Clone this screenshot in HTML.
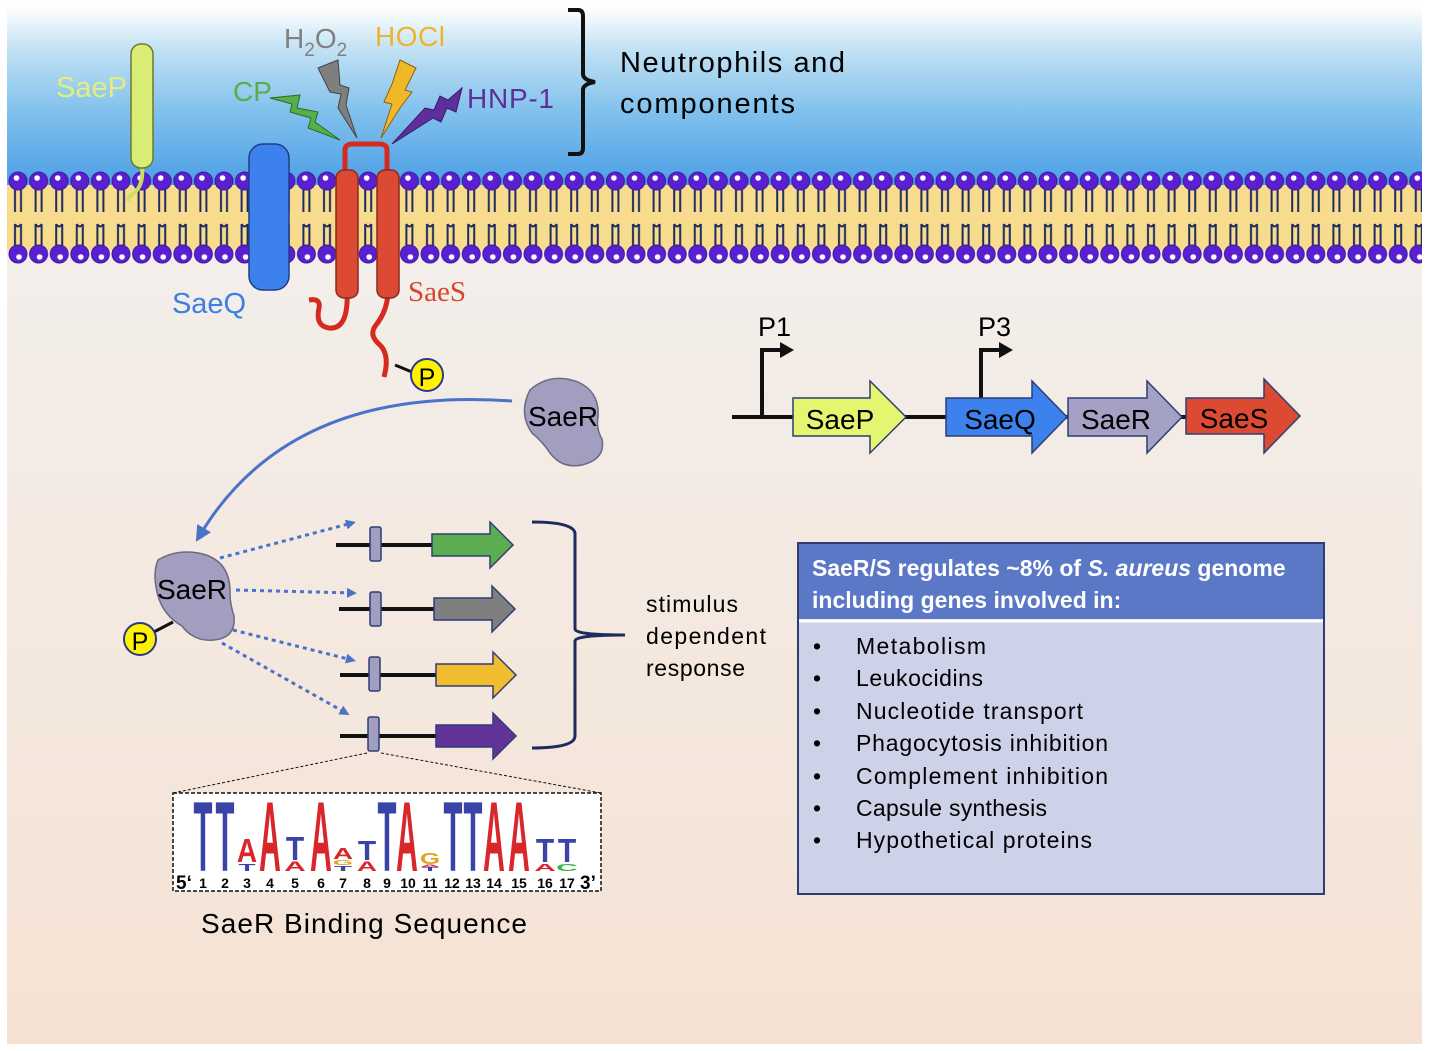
<!DOCTYPE html>
<html><head><meta charset="utf-8"><style>
html,body{margin:0;padding:0;background:#fff}
svg{display:block}
text{font-family:"Liberation Sans","DejaVu Sans",sans-serif}
</style></head><body>
<svg width="1429" height="1051" viewBox="0 0 1429 1051" xmlns="http://www.w3.org/2000/svg">
<defs>
<linearGradient id="sky" x1="0" y1="0" x2="0" y2="1">
<stop offset="0" stop-color="#ffffff"/><stop offset="0.25" stop-color="#bfe0f3"/><stop offset="0.6" stop-color="#7fc0ec"/><stop offset="1" stop-color="#4d9fe6"/></linearGradient>
<linearGradient id="cyto" x1="0" y1="0" x2="0" y2="1">
<stop offset="0" stop-color="#f2f2f2"/><stop offset="1" stop-color="#f5e2d3"/></linearGradient>
<pattern id="lip" x="8" y="0" width="20.6" height="300" patternUnits="userSpaceOnUse">
<path d="M7 190 v22 M13 190 v22 M7 190 q3 -5 6 0 M7 224 v22 M13 224 v22 M7 224 q3 5 6 0" stroke="#1f2a60" stroke-width="2" fill="none"/>
<circle cx="10" cy="181" r="9" fill="#5a1fd0" stroke="#3b1a9a" stroke-width="1"/>
<circle cx="8.5" cy="178" r="2.8" fill="#fff"/>
<circle cx="10" cy="254" r="9" fill="#5a1fd0" stroke="#3b1a9a" stroke-width="1"/>
<circle cx="11" cy="257" r="2.8" fill="#fff"/>
</pattern>
<marker id="ah" markerWidth="10" markerHeight="10" refX="6" refY="5" orient="auto" markerUnits="userSpaceOnUse"><path d="M0 0 L10 5 L0 10 Z" fill="#4a72c8"/></marker>
<marker id="ah2" markerWidth="16" markerHeight="16" refX="8" refY="8" orient="auto" markerUnits="userSpaceOnUse"><path d="M0 0 L16 8 L0 16 Z" fill="#4a72c8"/></marker>
</defs>
<rect x="7" y="7" width="1415" height="1037" fill="url(#cyto)"/>
<rect x="7" y="7" width="1415" height="178" fill="url(#sky)"/>
<rect x="7" y="185" width="1415" height="65" fill="#f7dc8e"/>
<rect x="7" y="160" width="1415" height="110" fill="url(#lip)"/>

<!-- SaeP -->
<path d="M142 165 q2 20 -8 28 q-6 4 -6 8" stroke="#c8e060" stroke-width="4" fill="none"/>
<rect x="131" y="44" width="22" height="124" rx="10" fill="#d9ec76" stroke="#6d7a2a" stroke-width="1.5"/>
<text x="56" y="97" font-size="29" fill="#e2ee7e">SaeP</text>
<!-- SaeQ -->
<rect x="249" y="144" width="40" height="146" rx="14" fill="#3d82ec" stroke="#1f3c88" stroke-width="1.5"/>
<text x="172" y="313" font-size="29" fill="#3e7fe0" textLength="74">SaeQ</text>
<!-- SaeS -->
<path d="M345 170 v-20 q0 -6 8 -6 h26 q8 0 8 6 v20" stroke="#d42b1e" stroke-width="5" fill="none"/>
<path d="M347 290 q2 40 -18 38 q-14 -2 -10 -20 q2 -10 -10 -8" stroke="#d42b1e" stroke-width="5" fill="none"/>
<path d="M388 290 q0 20 -12 35 q-8 10 4 20 q10 10 4 32" stroke="#d42b1e" stroke-width="5" fill="none"/>
<rect x="336" y="170" width="22" height="128" rx="8" fill="#dc4a33" stroke="#8a2a1c" stroke-width="1.5"/>
<rect x="377" y="170" width="22" height="128" rx="8" fill="#dc4a33" stroke="#8a2a1c" stroke-width="1.5"/>
<text x="408" y="301" font-size="29" fill="#d8452e" style="font-family:'Liberation Serif',serif">SaeS</text>
<line x1="395" y1="365" x2="412" y2="372" stroke="#111" stroke-width="3"/>
<circle cx="427" cy="375" r="16" fill="#fff200" stroke="#2a3a8a" stroke-width="2"/>
<text x="427" y="386" font-size="25" text-anchor="middle">P</text>

<!-- stimuli -->
<path d="M270 98 L300 95 L297 108 L318 112 L315 122 L340 140 L308 128 L311 118 L290 112 L292 104 Z" fill="#55b04a" stroke="#2d6a2a"/>
<path d="M318 68 L338 60 L340 85 L349 88 L346 105 L357 138 L338 108 L341 94 L330 92 Z" fill="#7f7f7f" stroke="#444"/>
<path d="M400 60 L416 68 L405 90 L412 92 L400 108 L381 138 L392 104 L384 102 L392 84 Z" fill="#f0b829" stroke="#8a6212"/>
<path d="M462 88 L456 112 L447 108 L441 122 L433 118 L392 144 L425 108 L434 110 L440 96 L448 100 Z" fill="#5e2f9a" stroke="#3a1a6a"/>
<text x="233" y="101" font-size="28" fill="#5aae4a">CP</text>
<text x="284" y="48" font-size="28" fill="#808080">H<tspan font-size="19" dy="8">2</tspan><tspan dy="-8">O</tspan><tspan font-size="19" dy="8">2</tspan></text>
<text x="375" y="46" font-size="28" fill="#f0b429" textLength="70">HOCl</text>
<text x="467" y="108" font-size="28" fill="#5e2f9a" textLength="87">HNP-1</text>
<path d="M568 10 h10 q5 0 5 6 v58 q0 6 12 8 q-12 2 -12 8 v58 q0 6 -5 6 h-10" stroke="#111" stroke-width="4" fill="none"/>
<text x="620" y="72" font-size="29" textLength="225">Neutrophils and</text>
<text x="620" y="113" font-size="29" textLength="175">components</text>

<!-- SaeR blobs -->
<path d="M530 390 q20 -18 48 -8 q22 10 20 35 q-2 12 4 22 q4 20 -20 26 q-20 4 -32 -12 q-8 -12 -18 -20 q-14 -20 -2 -43 Z" fill="#a29ec0" stroke="#6a6a82" stroke-width="1.5"/>
<text x="563" y="426" font-size="28" text-anchor="middle">SaeR</text>
<path d="M512 401 Q290 385 200 535" stroke="#4a72c8" stroke-width="3" fill="none" marker-end="url(#ah2)"/>
<path d="M158 560 q20 -12 45 -6 q28 8 27 40 q0 10 4 22 q2 22 -20 24 q-20 2 -32 -14 q-18 -10 -24 -30 q-6 -22 0 -36 Z" fill="#a29ec0" stroke="#6a6a82" stroke-width="1.5"/>
<text x="192" y="599" font-size="28" text-anchor="middle">SaeR</text>
<line x1="173" y1="622" x2="150" y2="634" stroke="#111" stroke-width="3"/>
<circle cx="140" cy="639" r="16" fill="#fff200" stroke="#2a3a8a" stroke-width="2"/>
<text x="140" y="650" font-size="25" text-anchor="middle">P</text>
<g stroke="#4a72c8" stroke-width="3" stroke-dasharray="4 4" fill="none" marker-end="url(#ah)">
<line x1="220" y1="558" x2="352" y2="523"/>
<line x1="236" y1="590" x2="353" y2="593"/>
<line x1="233" y1="630" x2="352" y2="660"/>
<line x1="222" y1="643" x2="346" y2="713"/>
</g>
<!-- gene rows -->
<g stroke="#111" stroke-width="4"><line x1="336" y1="545" x2="434" y2="545"/><line x1="339" y1="609" x2="434" y2="609"/><line x1="340" y1="675" x2="436" y2="675"/><line x1="340" y1="736" x2="436" y2="736"/></g>
<g stroke="#2d3e75" stroke-width="1.5">
<rect x="370" y="527" width="11" height="34" rx="2" fill="#a29ec0"/>
<rect x="370" y="592" width="11" height="34" rx="2" fill="#a29ec0"/>
<rect x="369" y="657" width="11" height="34" rx="2" fill="#a29ec0"/>
<rect x="368" y="717" width="11" height="34" rx="2" fill="#a29ec0"/>
<path d="M432 534 h58 v-12 l23 23 l-23 23 v-12 h-58 Z" fill="#5cad52"/>
<path d="M434 598 h58 v-12 l23 23 l-23 23 v-12 h-58 Z" fill="#7f7f7f"/>
<path d="M436 664 h57 v-12 l23 23 l-23 23 v-12 h-57 Z" fill="#f0bd2e"/>
<path d="M436 725 h57 v-12 l23 23 l-23 23 v-12 h-57 Z" fill="#613399"/>
</g>
<path d="M532 522 q43 0 43 12 v95 q0 6 50 6 q-50 0 -50 6 v95 q0 12 -43 12" stroke="#1f2a60" stroke-width="3" fill="none"/>
<text x="646" y="612" font-size="23" textLength="92">stimulus</text>
<text x="646" y="644" font-size="23" textLength="120">dependent</text>
<text x="646" y="676" font-size="23" textLength="99">response</text>

<!-- sequence logo -->
<path d="M367 753 L173 793 M381 753 L601 793" stroke="#111" stroke-width="1" stroke-dasharray="3 2"/>
<rect x="173" y="793" width="428" height="98" fill="#fff" stroke="#111" stroke-width="1.5" stroke-dasharray="4 2"/>
<g font-weight="bold" font-size="100" text-anchor="middle">
<text transform="translate(203,871) scale(0.31,0.99)" fill="#3a43a8">T</text>
<text transform="translate(225,871) scale(0.31,0.99)" fill="#3a43a8">T</text>
<text transform="translate(247,871) scale(0.28,0.1)" fill="#3a43a8">T</text>
<text transform="translate(247,862) scale(0.28,0.33)" fill="#d9262a">A</text>
<text transform="translate(270,871) scale(0.3,0.99)" fill="#d9262a">A</text>
<text transform="translate(295,871) scale(0.3,0.14)" fill="#d9262a">A</text>
<text transform="translate(295,860) scale(0.3,0.33)" fill="#3a43a8">T</text>
<text transform="translate(321,871) scale(0.3,0.99)" fill="#d9262a">A</text>
<text transform="translate(343,871) scale(0.3,0.07)" fill="#3a43a8">T</text>
<text transform="translate(343,865) scale(0.26,0.07)" fill="#e0a520">G</text>
<text transform="translate(343,859) scale(0.28,0.16)" fill="#d9262a">A</text>
<text transform="translate(367,871) scale(0.28,0.14)" fill="#d9262a">A</text>
<text transform="translate(367,860) scale(0.3,0.28)" fill="#3a43a8">T</text>
<text transform="translate(387,871) scale(0.31,0.99)" fill="#3a43a8">T</text>
<text transform="translate(407,871) scale(0.3,0.99)" fill="#d9262a">A</text>
<text transform="translate(430,871) scale(0.28,0.05)" fill="#3a43a8">T</text>
<text transform="translate(430,867) scale(0.28,0.04)" fill="#d9262a">A</text>
<text transform="translate(430,864) scale(0.26,0.16)" fill="#e0a520">G</text>
<text transform="translate(453,871) scale(0.31,0.99)" fill="#3a43a8">T</text>
<text transform="translate(473,871) scale(0.31,0.99)" fill="#3a43a8">T</text>
<text transform="translate(494,871) scale(0.3,0.99)" fill="#d9262a">A</text>
<text transform="translate(519,871) scale(0.3,0.99)" fill="#d9262a">A</text>
<text transform="translate(545,871) scale(0.3,0.1)" fill="#d9262a">A</text>
<text transform="translate(545,862) scale(0.3,0.33)" fill="#3a43a8">T</text>
<text transform="translate(567,871) scale(0.3,0.1)" fill="#3db34a">C</text>
<text transform="translate(567,862) scale(0.3,0.33)" fill="#3a43a8">T</text>
</g>
<g font-weight="bold" font-size="14" text-anchor="middle">
<text x="203" y="888">1</text><text x="225" y="888">2</text><text x="247" y="888">3</text><text x="270" y="888">4</text><text x="295" y="888">5</text><text x="321" y="888">6</text><text x="343" y="888">7</text><text x="367" y="888">8</text><text x="387" y="888">9</text><text x="408" y="888">10</text><text x="430" y="888">11</text><text x="452" y="888">12</text><text x="473" y="888">13</text><text x="494" y="888">14</text><text x="519" y="888">15</text><text x="545" y="888">16</text><text x="567" y="888">17</text>
</g>
<text x="176" y="889" font-size="19" font-weight="bold">5‘</text>
<text x="580" y="889" font-size="19" font-weight="bold">3’</text>
<text x="201" y="933" font-size="28" textLength="326">SaeR Binding Sequence</text>

<!-- operon -->
<line x1="732" y1="417" x2="1190" y2="417" stroke="#111" stroke-width="4"/>
<path d="M762 417 V350 H783" stroke="#111" stroke-width="4" fill="none"/><path d="M780 342 L794 350 L780 358 Z" fill="#111"/>
<path d="M981 400 V350 H1002" stroke="#111" stroke-width="4" fill="none"/><path d="M999 342 L1013 350 L999 358 Z" fill="#111"/>
<text x="758" y="336" font-size="27">P1</text>
<text x="978" y="336" font-size="27">P3</text>
<g stroke="#2d3e75" stroke-width="1.5">
<path d="M793 398 h77 v-17 l36 36 l-36 36 v-17 h-77 Z" fill="#e4f56f"/>
<path d="M946 398 h86 v-17 l35 36 l-35 36 v-17 h-86 Z" fill="#3d82ec"/>
<path d="M1068 398 h79 v-17 l35 36 l-35 36 v-17 h-79 Z" fill="#a5a1c5"/>
<path d="M1186 398 h78 v-19 l36 37 l-36 37 v-19 h-78 Z" fill="#dc4a33"/>
</g>
<text x="840" y="429" font-size="28" text-anchor="middle">SaeP</text>
<text x="1000" y="429" font-size="28" text-anchor="middle">SaeQ</text>
<text x="1116" y="429" font-size="28" text-anchor="middle">SaeR</text>
<text x="1234" y="428" font-size="28" text-anchor="middle">SaeS</text>

<!-- info box -->
<rect x="798" y="543" width="526" height="351" fill="#cdd2e8" stroke="#2d3e75" stroke-width="2"/>
<rect x="799" y="544" width="524" height="75" fill="#5b78c6"/>
<line x1="799" y1="621" x2="1323" y2="621" stroke="#fff" stroke-width="3"/>
<text x="812" y="576" font-size="23" font-weight="bold" fill="#fff">SaeR/S regulates ~8% of <tspan font-style="italic">S. aureus</tspan> genome</text>
<text x="812" y="608" font-size="23" font-weight="bold" fill="#fff">including genes involved in:</text>
<g font-size="23">
<text x="813" y="654">•</text><text x="856" y="654" textLength="130">Metabolism</text>
<text x="813" y="686">•</text><text x="856" y="686" textLength="127">Leukocidins</text>
<text x="813" y="719">•</text><text x="856" y="719" textLength="227">Nucleotide transport</text>
<text x="813" y="751">•</text><text x="856" y="751" textLength="252">Phagocytosis inhibition</text>
<text x="813" y="784">•</text><text x="856" y="784" textLength="252">Complement inhibition</text>
<text x="813" y="816">•</text><text x="856" y="816" textLength="191">Capsule synthesis</text>
<text x="813" y="848">•</text><text x="856" y="848" textLength="236">Hypothetical proteins</text>
</g>
</svg>
</body></html>
